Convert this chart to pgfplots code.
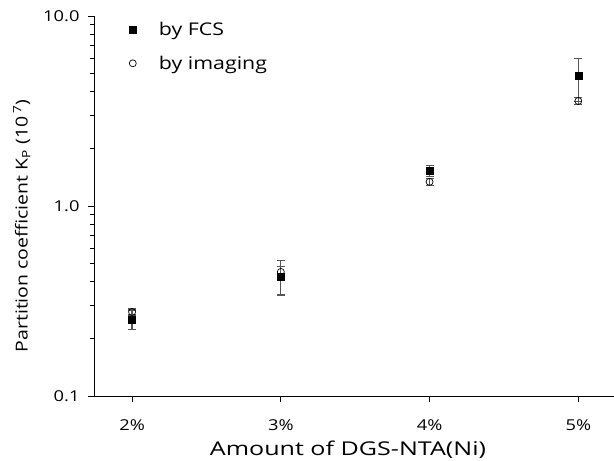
\documentclass[border=0pt]{standalone}
\usepackage{fontspec}
\setmainfont{Open Sans}[FakeStretch=1.22]
\newfontfamily\xlabfont{Open Sans}[FakeStretch=1.32]
\newfontfamily\vlabelfont{Open Sans}[FakeStretch=1.18]
\usepackage{pgfplots}
\pgfplotsset{compat=1.18}
\definecolor{errgray}{RGB}{85,85,85}

\begin{document}
\begin{tikzpicture}
\begin{axis}[
    scale only axis,
    width=520pt,
    height=380pt,
    ymode=log,
    ymin=0.1, ymax=10,
    xmin=1.744, xmax=5.24,
    xtick={2,3,4,5},
    xticklabels={2\%,3\%,4\%,5\%},
    ytick={0.1,1,10},
    yticklabels={0.1,1.0,10.0},
    minor ytick={0.2,0.3,0.4,0.5,0.6,0.7,0.8,0.9,2,3,4,5,6,7,8,9},
    axis x line*=bottom,
    axis y line*=left,
    tick align=outside,
    major tick length=6pt,
    minor tick length=4pt,
    tick style={black, line width=0.8pt},
    axis line style={black, line width=0.8pt},
    tick label style={font=\fontsize{15}{18}\selectfont},
    xticklabel style={yshift=-14pt},
    yticklabel style={xshift=-5pt},
    xlabel={Amount of DGS-NTA(Ni)},
    xlabel style={font=\xlabfont\fontsize{19}{22}\selectfont, xshift=-6pt, yshift=-4pt},
    ylabel={Partition coefficient K\textsubscript{P} (10\,\textsuperscript{7})},
    ylabel style={font=\vlabelfont\fontsize{16.5}{20}\selectfont, xshift=-20pt, yshift=6pt},
    legend style={
        at={(axis description cs:0.045,0.995)},
        anchor=north west,
        draw=none, fill=none,
        font=\fontsize{17.5}{21}\selectfont,
        row sep=15pt
    },
    legend cell align=left,
    legend image code/.code={
        \draw[#1] plot coordinates {(12pt,0pt)};
        \path (0pt,0pt) (36pt,0pt);
    },
    error bars/error bar style={errgray, line width=1.2pt},
    error bars/error mark options={rotate=90, mark size=4pt, errgray, line width=1.2pt},
]
\addplot[only marks, mark=square*, mark size=3.5pt, black,
    error bars/.cd, y dir=both, y explicit]
    coordinates {
    (2,0.252) += (0,0.030) -= (0,0.028)
    (3,0.425) += (0,0.090) -= (0,0.085)
    (4,1.53) += (0,0.11) -= (0,0.10)
    (5,4.85) += (0,1.15) -= (0,1.30)
    };
\addplot[only marks, mark=o, mark size=3.5pt, black, mark options={fill=white, line width=0.7pt},
    error bars/.cd, y dir=both, y explicit]
    coordinates {
    (2,0.277) += (0,0.010) -= (0,0.010)
    (3,0.45) += (0,0.030) -= (0,0.030)
    (4,1.34) += (0,0.06) -= (0,0.06)
    (5,3.57) += (0,0.15) -= (0,0.15)
    };
\legend{by FCS, by imaging}
\end{axis}
\pgfresetboundingbox
\path[use as bounding box] (-94pt,-65pt) rectangle (520pt,396pt);
\end{tikzpicture}
\end{document}
